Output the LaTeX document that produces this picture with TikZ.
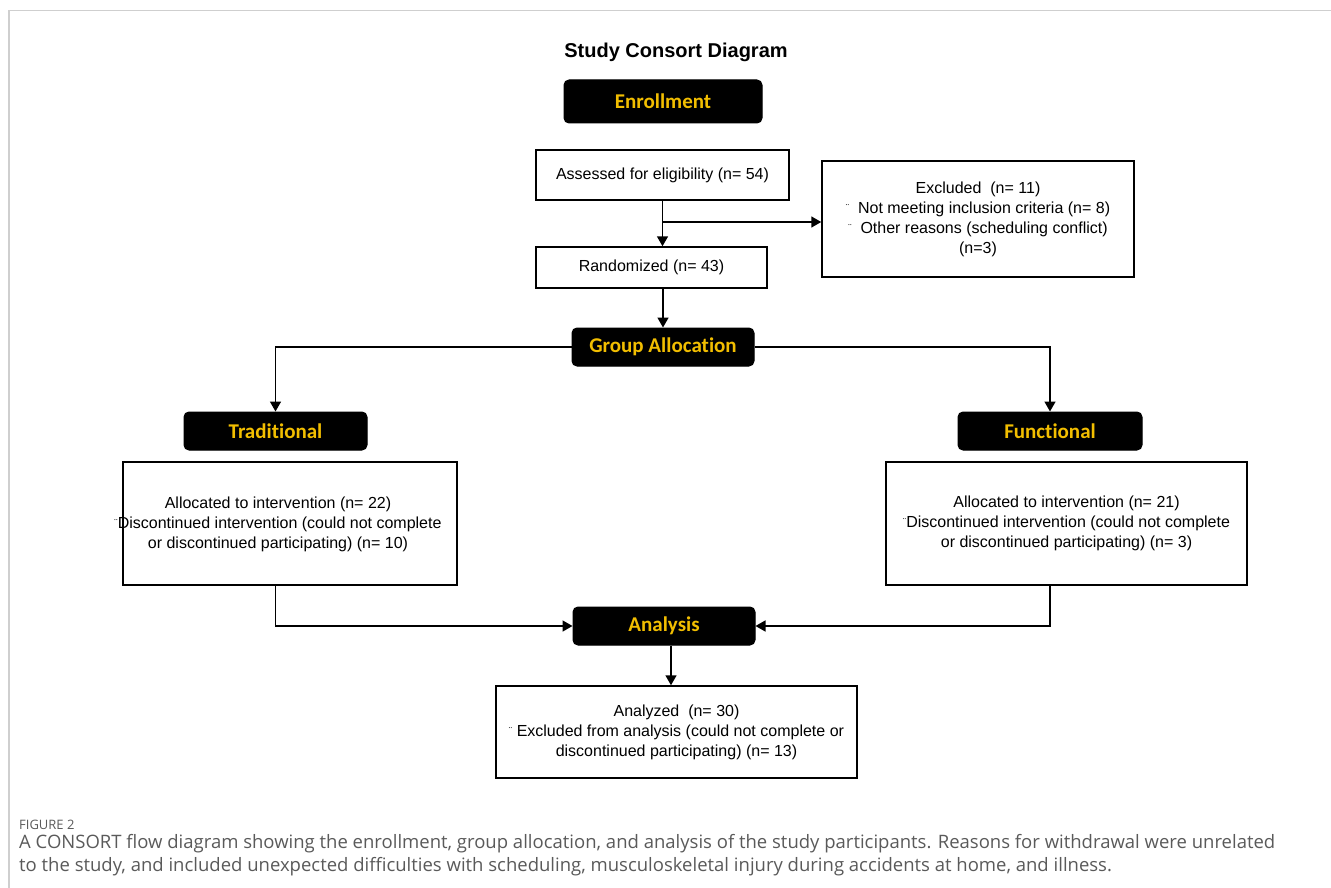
\documentclass[tikz,border=0pt]{standalone}
\usepackage{fontspec}
\setmainfont{Liberation Sans}
\newfontfamily\labelfont[Ligatures=CommonOff]{Carlito}
\newfontfamily\capfont{Open Sans}
\usetikzlibrary{arrows.meta}
\definecolor{gold}{HTML}{F2BE00}
\definecolor{capgray}{HTML}{5A5A5A}
\definecolor{framegray}{HTML}{CFCFCF}
\newcommand{\bul}{{\fontsize{10}{10}\selectfont\raisebox{2pt}{¨}}}
\tikzset{
  x=1pt, y=-1pt,
  blk/.style={draw=black, line width=1pt, fill=black, rounded corners=5pt, text=gold,
     font=\labelfont\bfseries\fontsize{21}{24}\selectfont, inner sep=0pt},
  wbox/.style={draw=black, line width=1.5pt, fill=white, inner sep=0pt, align=center,
     font=\fontsize{16}{20}\selectfont},
  txt/.style={inner sep=0pt, align=center, font=\fontsize{16}{20}\selectfont},
  arr/.style={line width=1.6pt, -{Triangle[length=10pt,width=11pt]}},
}
\begin{document}
\begin{tikzpicture}
\useasboundingbox (0,0) rectangle (1331,888);
\fill[white] (0,0) rectangle (1331,888);
% frame lines
\draw[framegray, line width=1.6pt] (9,10.5) -- (1331,10.5);
\draw[framegray, line width=1.6pt] (9,10.5) -- (9,888);
% title
\node[inner sep=0pt, font=\bfseries\fontsize{20}{24}\selectfont] (title) at (676,52) {Study Consort Diagram};
% nodes
\node[blk, minimum width=198pt, minimum height=43pt] (enroll) at (663,101.5) {Enrollment};
\node[wbox, minimum width=253pt, minimum height=50pt] (assess) at (662.5,175) {Assessed for eligibility (n= 54)};
\node[wbox, minimum width=312pt, minimum height=116pt] (excl) at (978,219)
  {Excluded\ \ (n= 11)\\ \bul\ \ Not meeting inclusion criteria (n= 8)\\ \bul\ \ Other reasons (scheduling conflict)\\ (n=3)};
\node[wbox, minimum width=231pt, minimum height=41pt] (rand) at (651.5,267.5) {Randomized (n= 43)};
\node[blk, minimum width=182pt, minimum height=38pt] (group) at (663,347) {Group Allocation};
\node[blk, minimum width=183pt, minimum height=38pt] (trad) at (275.5,431) {Traditional};
\node[blk, minimum width=184pt, minimum height=38pt] (func) at (1050,431) {Functional};
\node[wbox, minimum width=334pt, minimum height=123pt] (tradbox) at (290,523.5) {};
\node[txt] (tradtxt) at (278,524) {Allocated to intervention (n= 22)\\ \bul Discontinued intervention (could not complete\\ or discontinued participating) (n= 10)};
\node[wbox, minimum width=361pt, minimum height=123pt] (funcbox) at (1066.5,523.5)
  {Allocated to intervention (n= 21)\\ \bul Discontinued intervention (could not complete\\ or discontinued participating) (n= 3)};
\node[blk, minimum width=182pt, minimum height=38pt] (anal) at (664,626) {Analysis};
\node[wbox, minimum width=361pt, minimum height=92pt] (analbox) at (676.5,732)
  {Analyzed\ \ (n= 30)\\ \bul\ Excluded from analysis (could not complete or\\ discontinued participating) (n= 13)};
% connectors
\coordinate (br) at (assess.south |- 0,222);
\draw[arr] (assess.south) -- (assess.south |- rand.north);
\draw[arr] (br) -- (br -| excl.west);
\draw[arr] (group.north |- rand.south) -- (group.north);
\draw[arr] (group.west) -| (trad.north);
\draw[arr] (group.east) -| (func.north);
\draw[arr] (trad.south |- tradbox.south) |- (anal.west);
\draw[arr] (func.south |- funcbox.south) |- (anal.east);
\draw[arr] ([xshift=7pt]anal.south) -- ([xshift=7pt]anal.south |- analbox.north);
% caption
\node[anchor=west, inner sep=0pt, text=capgray, font=\capfont\fontsize{13}{15}\selectfont] (fig) at (19,825) {FIGURE 2};
\node[anchor=north west, inner sep=0pt, align=left, text=capgray, font=\capfont\fontsize{18.5}{23}\selectfont] (cap) at (19,834)
  {A CONSORT flow diagram showing the enrollment, group allocation, and analysis of the study participants. Reasons for withdrawal were unrelated\\
   to the study, and included unexpected difficulties with scheduling, musculoskeletal injury during accidents at home, and illness.};
\end{tikzpicture}
\end{document}
